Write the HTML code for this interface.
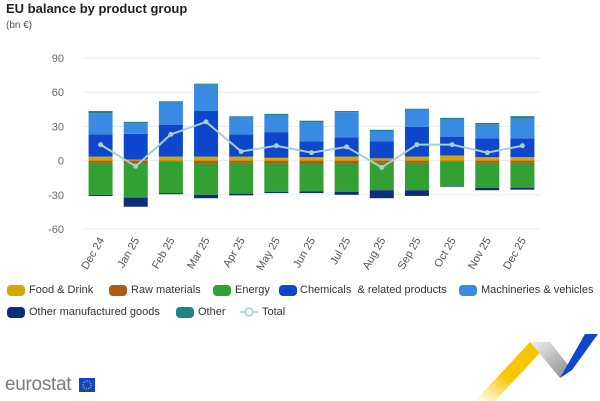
<!DOCTYPE html>
<html><head><meta charset="utf-8"><style>
body{margin:0;width:600px;height:401px;background:#fff;font-family:"Liberation Sans",sans-serif;overflow:hidden;position:relative}
.t{position:absolute;white-space:nowrap}
.lg{position:absolute;font-size:11px;color:#333;white-space:nowrap;line-height:12px}
.sw{position:absolute;width:18px;height:11px;border-radius:4px}
</style></head><body>
<div class="t" style="left:6px;top:1px;font-size:13px;font-weight:bold;color:#222">EU balance by product group</div>
<div class="t" style="left:6px;top:20px;font-size:10px;color:#555">(bn €)</div>
<svg id="chart" width="600" height="280" style="position:absolute;left:0;top:0"></svg>

<div class="sw" style="left:7px;top:285px;background:#d4a800"></div><div class="lg" style="left:29px;top:284px">Food &amp; Drink</div>
<div class="sw" style="left:109px;top:285px;background:#b05a18"></div><div class="lg" style="left:131px;top:284px">Raw materials</div>
<div class="sw" style="left:213px;top:285px;background:#33a033"></div><div class="lg" style="left:235px;top:284px">Energy</div>
<div class="sw" style="left:279px;top:285px;background:#0e47cb"></div><div class="lg" style="left:300px;top:284px">Chemicals &nbsp;&amp; related products</div>
<div class="sw" style="left:459px;top:285px;background:#388ae2"></div><div class="lg" style="left:481px;top:284px">Machineries &amp; vehicles</div>
<div class="sw" style="left:7px;top:307px;background:#0e2d7a"></div><div class="lg" style="left:29px;top:306px">Other manufactured goods</div>
<div class="sw" style="left:176px;top:307px;background:#208486"></div><div class="lg" style="left:198px;top:306px">Other</div>
<svg style="position:absolute;left:240px;top:305px" width="18" height="14"><line x1="0" y1="7" x2="18" y2="7" stroke="#a6cfcf" stroke-width="1.5"/><circle cx="9" cy="7" r="4" fill="#fff" stroke="#a6cfcf" stroke-width="1.5"/></svg><div class="lg" style="left:262px;top:306px">Total</div>

<div class="t" style="left:5px;top:374px;font-size:19px;color:#7a7a7a;letter-spacing:-0.3px">eurostat</div>
<svg style="position:absolute;left:79px;top:378px" width="16" height="14"><rect width="16" height="14" fill="#0e47cb"/><circle cx="8" cy="7" r="4" fill="none" stroke="#f5d000" stroke-width="1" stroke-dasharray="1 1.1"/></svg>
<svg style="position:absolute;left:400px;top:330px" width="200" height="71">
<defs><linearGradient id="gy" x1="0" y1="1" x2="0.6" y2="0"><stop offset="0" stop-color="#fff"/><stop offset="0.5" stop-color="#f6c700"/></linearGradient><linearGradient id="gg" x1="0" y1="0" x2="1" y2="1"><stop offset="0" stop-color="#f0f0f0"/><stop offset="1" stop-color="#888"/></linearGradient></defs>
<polygon points="75,71 130,12 150,12 95,71" fill="url(#gy)"/>
<polygon points="130,12 150,12 172,40 160,48" fill="url(#gg)"/>
<polygon points="160,48 172,40 198,4 185,4" fill="#0e47cb"/>
</svg>
<script>
const categories=["Dec 24","Jan 25","Feb 25","Mar 25","Apr 25","May 25","Jun 25","Jul 25","Aug 25","Sep 25","Oct 25","Nov 25","Dec 25"];
const food=[3.5,1,3.5,3.5,3.5,2.5,3,3.5,2,3.5,4.5,3,3];
const raw=[-2,-2.5,-0.5,-2.5,-2,-2.5,-3,-2.5,-2,-2,-1,-2,-2];
const energy=[-28,-30,-28,-27.5,-27,-25,-24,-25,-24,-24,-21.5,-22,-22];
const chemicals=[19.5,22.5,28,40,19.5,22.5,14,17,15,26,16.5,16.5,16.5];
const machineries=[18.5,9.5,19.5,23,15.5,15,16.5,22,8.5,15,15,12,17.5];
const otherManuf=[-1,-8,-1,-3,-1.5,-1,-1.5,-2.5,-7,-5,-0.5,-2,-1.5];
const other=[2,1,1,1,0.5,1,1.5,1,1.5,1,1.5,1.5,2];
const total=[14,-5,23,34,8,13,7,12,-6,14,14,7,13];
const yTicks=[90,60,30,0,-30,-60];
const NS="http://www.w3.org/2000/svg";
const svg=document.getElementById('chart');
const x0=83,x1=540,ymin=-60,ymax=90,py0=229,py1=58;
const y=v=>py0-(v-ymin)/(ymax-ymin)*(py0-py1);
const step=(x1-x0)/categories.length;
const xc=i=>x0+step*(i+0.5);
function mk(t,a){const e=document.createElementNS(NS,t);for(const k in a)e.setAttribute(k,a[k]);svg.appendChild(e);return e;}
yTicks.forEach(v=>{
 const l=mk('line',{x1:x0,x2:x1,y1:y(v),y2:y(v),stroke:'#e8ebf2','stroke-width':1});
 
 
 const t=mk('text',{x:64,y:y(v)+4,'text-anchor':'end','font-size':11,fill:'#666','font-family':'Liberation Sans'});
 t.textContent=v;
 
 
});
const series=[[food,'#d4a800','food'],[raw,'#b05a18','raw'],[energy,'#33a033','energy'],[chemicals,'#0e47cb','chemicals'],[machineries,'#388ae2','machineries'],[otherManuf,'#0e2d7a','other-manufactured'],[other,'#208486','other']];
const bw=24;
categories.forEach((c,i)=>{
 let pos=0,neg=0;
 series.forEach(([arr,col,nm])=>{
  const v=arr[i];let a,b;
  if(v>=0){a=pos;b=pos+v;pos=b;}else{a=neg;b=neg+v;neg=b;}
  const r=mk('rect',{x:xc(i)-bw/2,y:Math.min(y(a),y(b)),width:bw,height:Math.abs(y(a)-y(b)),fill:col});
  
  
 });
 const t=mk('text',{x:0,y:0,'text-anchor':'end','font-size':11,fill:'#555','font-family':'Liberation Sans',transform:`translate(${xc(i)+4},${240}) rotate(-60)`});
 t.textContent=c;
 
 
});
const pl=mk('polyline',{points:total.map((v,i)=>xc(i)+','+y(v)).join(' '),fill:'none',stroke:'#a6cfcf','stroke-width':2});


total.forEach((v,i)=>{
 const p=mk('circle',{cx:xc(i),cy:y(v),r:2.5,fill:'#a6cfcf'});
 
 
});
</script>
</body></html>
